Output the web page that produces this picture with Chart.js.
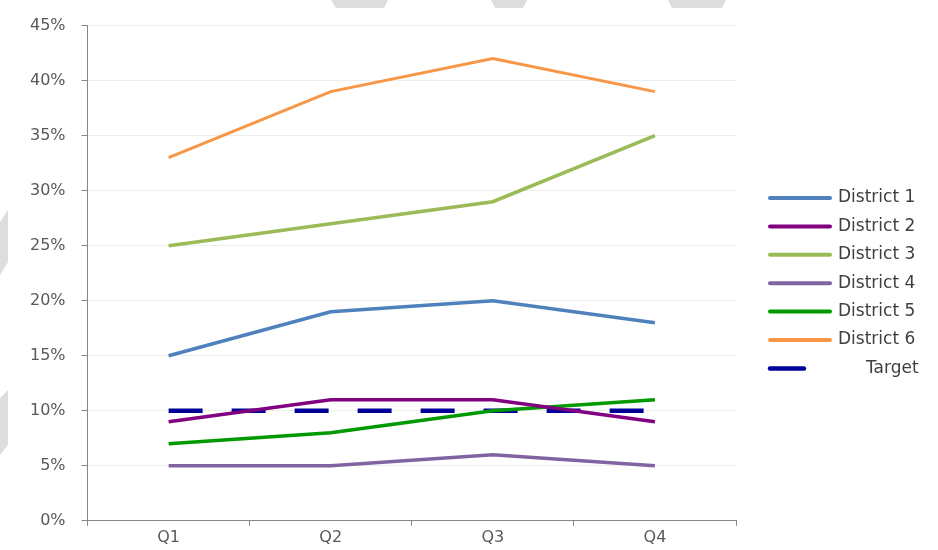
<!DOCTYPE html>
<html>
<head>
<meta charset="utf-8">
<script src="https://cdn.jsdelivr.net/npm/chart.js@4.4.1/dist/chart.umd.min.js"></script>
<style>
    html, body { margin: 0; padding: 0; background: #fff; }
    canvas { display: block; }
</style>
</head>
<body>
<canvas id="districtChart" width="938" height="550"></canvas>
<script>
/* ================= DATA ================= */

const quarters = ["Q1", "Q2", "Q3", "Q4"];

const district1 = [15, 19, 20, 18];
const district2 = [9, 11, 11, 9];
const district3 = [25, 27, 29, 35];
const district4 = [5, 5, 6, 5];
const district5 = [7, 8, 10, 11];
const district6 = [33, 39, 42, 39];
const target = [10, 10, 10, 10];

const yTicks = [0, 5, 10, 15, 20, 25, 30, 35, 40, 45];

/* ================= HELPERS ================= */

function line(label, data, color, extra) {
    return Object.assign({
        label,
        data,
        borderColor: color,
        backgroundColor: color,
        borderWidth: 3.5,
        pointRadius: 0,
        tension: 0,
        fill: false
    }, extra || {});
}

/* light grey diagonal shapes along the edges of the scan */
const edgeMarks = {
    id: "edgeMarks",
    beforeDraw(chart) {
        const ctx = chart.ctx;
        ctx.save();
        ctx.fillStyle = "#dddddd";
        const shapes = [
            [[331, 0], [388, 0], [384, 8], [336, 8]],
            [[491, 0], [527, 0], [523, 8], [495, 8]],
            [[668, 0], [726, 0], [722, 8], [672, 8]],
            [[0, 222], [8, 210], [8, 262], [0, 275]],
            [[0, 398], [8, 390], [8, 445], [0, 455]]
        ];
        shapes.forEach(s => {
            ctx.beginPath();
            ctx.moveTo(s[0][0], s[0][1]);
            s.slice(1).forEach(p => ctx.lineTo(p[0], p[1]));
            ctx.closePath();
            ctx.fill();
        });
        ctx.restore();
    }
};

/* legend on the right, Excel style: swatch line then label */
const sideLegend = {
    id: "sideLegend",
    afterDraw(chart) {
        const ctx = chart.ctx;
        const x0 = 770, top = 198, step = 28.4, len = 60;
        ctx.save();
        ctx.font = "17px 'DejaVu Sans', sans-serif";
        ctx.textBaseline = "middle";
        ctx.fillStyle = "#404040";
        chart.data.datasets.forEach((ds, i) => {
            const y = top + i * step;
            const dashed = !!ds.borderDash;
            ctx.beginPath();
            ctx.strokeStyle = ds.borderColor;
            ctx.lineWidth = dashed ? ds.borderWidth : 4;
            ctx.lineCap = "round";
            ctx.moveTo(x0, y);
            ctx.lineTo(dashed ? x0 + ds.borderDash[0] : x0 + len, y);
            ctx.stroke();
            ctx.fillText(ds.label, dashed ? x0 + 96 : x0 + len + 8, y);
        });
        ctx.restore();
    }
};

/* ================= CHART ================= */

Chart.defaults.font.family = "'DejaVu Sans', sans-serif";
Chart.defaults.font.size = 16;
Chart.defaults.color = "#595959";

new Chart(document.getElementById("districtChart"), {
    type: "line",
    data: {
        labels: quarters,
        datasets: [
            line("District 1", district1, "#4F81BD"),
            line("District 2", district2, "#800080"),
            line("District 3", district3, "#9BBB59"),
            line("District 4", district4, "#8064A2"),
            line("District 5", district5, "#009900"),
            line("District 6", district6, "#F79646", { borderWidth: 3 }),
            line("Target", target, "#000099", { borderWidth: 4.5, borderDash: [34, 29] })
        ]
    },
    plugins: [edgeMarks, sideLegend],
    options: {
        responsive: false,
        animation: false,
        layout: { padding: { top: 23, left: 14, right: 202, bottom: 1 } },
        plugins: {
            tooltip: { enabled: false },
            legend: { display: false }
        },
        scales: {
            x: {
                offset: true,
                grid: {
                    offset: true,
                    drawOnChartArea: false,
                    tickLength: 5,
                    tickColor: "#868686"
                },
                border: { color: "#868686", width: 1 },
                ticks: { padding: 2, color: "#595959" }
            },
            y: {
                min: 0,
                max: 45,
                afterBuildTicks: axis => {
                    axis.ticks = yTicks.map(v => ({ value: v }));
                },
                grid: {
                    color: "#eeeeee",
                    tickLength: 6,
                    tickColor: "#868686"
                },
                border: { color: "#868686", width: 1 },
                ticks: {
                    autoSkip: false,
                    padding: 16,
                    color: "#595959",
                    callback: v => v + "%"
                }
            }
        }
    }
});
</script>
</body>
</html>
